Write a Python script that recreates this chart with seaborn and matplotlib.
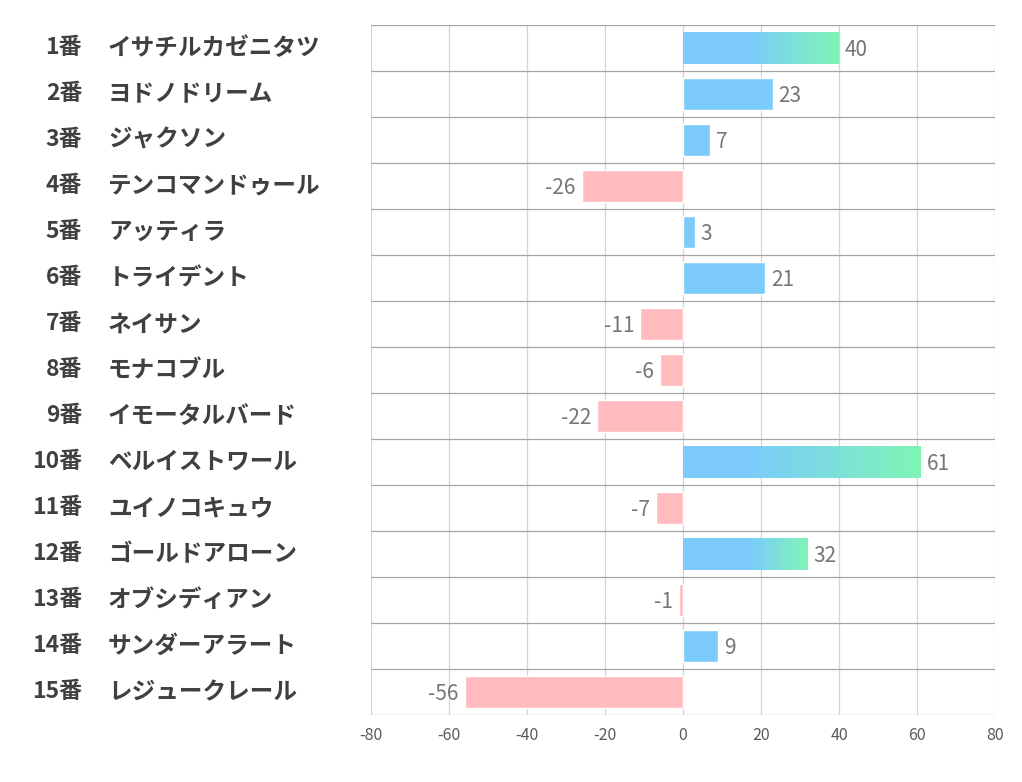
import matplotlib
matplotlib.use("Agg")
import matplotlib.pyplot as plt
import matplotlib.colors as mcolors
import numpy as np
import pandas as pd
import seaborn as sns

# --- data ---
numbers = [f"{i}番" for i in range(1, 16)]
horses = ["イサチルカゼニタツ", "ヨドノドリーム", "ジャクソン", "テンコマンドゥール",
          "アッティラ", "トライデント", "ネイサン", "モナコブル", "イモータルバード",
          "ベルイストワール", "ユイノコキュウ", "ゴールドアローン", "オブシディアン",
          "サンダーアラート", "レジュークレール"]
scores = [40, 23, 7, -26, 3, 21, -11, -6, -22, 61, -7, 32, -1, 9, -56]
ticks = [-80, -60, -40, -20, 0, 20, 40, 60, 80]

BLUE = "#7CCBFC"
GREEN = "#7EF5B6"
PINK = "#FFBBBE"

sns.set_theme(style="white")
plt.rcParams["font.family"] = ["Noto Sans CJK JP", "DejaVu Sans"]

df = pd.DataFrame({"horse": horses, "score": scores})
df["sign"] = np.where(df["score"] >= 0, "pos", "neg")

fig = plt.figure(figsize=(10.22, 7.82), dpi=100)
ax = fig.add_axes([371 / 1022, 1 - 715 / 782, (995 - 371) / 1022, (715 - 25) / 782])

sns.barplot(data=df, x="score", y="horse", hue="sign", orient="h",
            palette={"pos": BLUE, "neg": PINK}, width=0.7, dodge=False,
            legend=False, ax=ax, saturation=1)

ax.set_xlim(-80, 80)
ax.set_ylim(14.5, -0.5)

# gradient on the big bars (solid blue up to ~17, then blending to green)
for patch in ax.patches:
    w = patch.get_width()
    if w > 30:
        y0 = patch.get_y()
        h = patch.get_height()
        stop = 17 / w
        cmap = mcolors.LinearSegmentedColormap.from_list(
            "bg", [(0, BLUE), (stop, BLUE), (1, GREEN)])
        grad = np.linspace(0, 1, 512).reshape(1, -1)
        im = ax.imshow(grad, cmap=cmap, aspect="auto", interpolation="bilinear",
                       extent=[0, w, y0 + h, y0], zorder=patch.get_zorder() + 0.1)
        im.set_clip_path(patch)
        patch.set_alpha(0)

# grid
for t in ticks:
    ax.axvline(t, color="#D4D4D4", lw=0.9, zorder=0)
for y in np.arange(-0.5, 15, 1):
    ax.axhline(y, color="#A6A6A6", lw=0.9, zorder=0.5)

for s in ax.spines.values():
    s.set_visible(False)

ax.set_xticks(ticks)
ax.set_xticklabels([str(t) for t in ticks], color="#595959", fontsize=11.5)
ax.tick_params(axis="x", length=0, pad=9)
ax.set_yticks([])
ax.set_xlabel("")
ax.set_ylabel("")

# value labels
for i, v in enumerate(scores):
    if v >= 0:
        ax.text(v + 1.5, i + 0.05, str(v), ha="left", va="center",
                color="#767676", fontsize=15)
    else:
        ax.text(v - 1.5, i + 0.05, str(v), ha="right", va="center",
                color="#767676", fontsize=15)

# row labels
tr = ax.get_yaxis_transform()
for i, (n, h) in enumerate(zip(numbers, horses)):
    ax.text(-0.463, i, n, transform=tr, ha="right", va="center",
            fontsize=16.5, fontweight="bold", color="#404040")
    ax.text(-0.4215, i, h, transform=tr, ha="left", va="center",
            fontsize=17, fontweight="bold", color="#404040")

fig.savefig("out.png", dpi=100)
